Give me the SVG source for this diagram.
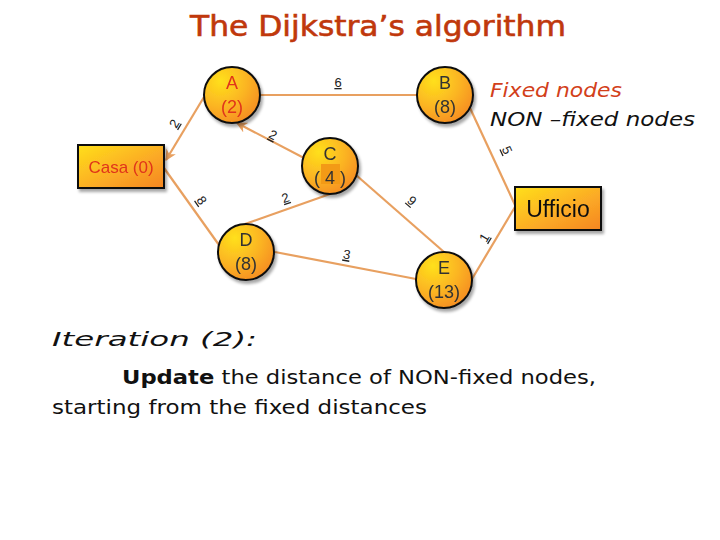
<svg xmlns="http://www.w3.org/2000/svg" width="720" height="540" viewBox="0 0 720 540">
<defs>
<radialGradient id="gc" cx="0.3" cy="0.25" r="0.85">
<stop offset="0" stop-color="#FFE01A"/>
<stop offset="0.55" stop-color="#FBB424"/>
<stop offset="1" stop-color="#F58A1F"/>
</radialGradient>
<linearGradient id="gr" x1="0" y1="0" x2="1" y2="1">
<stop offset="0" stop-color="#FFE01A"/>
<stop offset="0.6" stop-color="#FBA826"/>
<stop offset="1" stop-color="#F5851F"/>
</linearGradient>
<filter id="sh" x="-20%" y="-20%" width="150%" height="150%">
<feGaussianBlur in="SourceAlpha" stdDeviation="1.5"/>
<feOffset dx="2" dy="3" result="b"/>
<feComponentTransfer><feFuncA type="linear" slope="0.35"/></feComponentTransfer>
<feMerge><feMergeNode/><feMergeNode in="SourceGraphic"/></feMerge>
</filter>
<marker id="ar" viewBox="0 0 10 10" refX="9" refY="5" markerWidth="5" markerHeight="5" orient="auto">
<path d="M0,0 L10,5 L0,10 L3,5 z" fill="#E8A060"/>
</marker>
</defs>
<style>
.e{stroke:#E8A060;stroke-width:2.2;fill:none}
.c{fill:url(#gc);stroke:#111;stroke-width:2}
.r{fill:url(#gr);stroke:#111;stroke-width:2}
.n{font-family:"Liberation Sans",Arial,sans-serif;font-size:18px;fill:#333;text-anchor:middle}
.red{fill:#E0341A}
.l{font-family:"Liberation Sans",Arial,sans-serif;font-size:13px;fill:#222;text-anchor:middle;text-decoration:underline}
.h{font-family:"DejaVu Sans",sans-serif}
</style>
<text x="378" y="36" class="h" font-size="28" fill="#C0380C" stroke="#C0380C" stroke-width="0.6" text-anchor="middle" textLength="376" lengthAdjust="spacingAndGlyphs">The Dijkstra’s algorithm</text>

<g id="connectors">
<line class="e" x1="204" y1="97" x2="166" y2="160" marker-end="url(#ar)"/>
<line class="e" x1="164" y1="168" x2="219" y2="245"/>
<line class="e" x1="304" y1="158" x2="237" y2="123" marker-end="url(#ar)"/>
<line class="e" x1="260" y1="95" x2="417" y2="95"/>
<line class="e" x1="470" y1="108" x2="515" y2="205"/>
<line class="e" x1="515" y1="207" x2="472" y2="279"/>
<line class="e" x1="330" y1="194" x2="245" y2="224"/>
<line class="e" x1="356" y1="175" x2="444" y2="252"/>
<line class="e" x1="275" y1="252" x2="416" y2="279"/>
<text class="l" transform="translate(178,126) rotate(-59)">2</text>
<text class="l" transform="translate(198,203) rotate(55)">8</text>
<text class="l" transform="translate(271,139) rotate(27)">2</text>
<text class="l" x="338" y="87">6</text>
<text class="l" transform="translate(503,152) rotate(65)">5</text>
<text class="l" transform="translate(488,240) rotate(-59)">1</text>
<text class="l" transform="translate(287,202) rotate(-19)">2</text>
<text class="l" transform="translate(409,204) rotate(41)">9</text>
<text class="l" transform="translate(346,259) rotate(10)">3</text>
</g>

<g id="casa" filter="url(#sh)">
<rect class="r" x="78" y="145" width="86" height="43"/>
<text class="n red" x="121" y="173" style="font-size:17px">Casa (0)</text>
</g>
<g id="ufficio" filter="url(#sh)">
<rect class="r" x="515" y="187" width="86" height="43"/>
<text class="n" x="558" y="217" style="font-size:23px;fill:#111">Ufficio</text>
</g>
<g id="A" filter="url(#sh)">
<circle class="c" cx="232" cy="95" r="28"/>
<text class="n red" x="232" y="89">A</text>
<text class="n red" x="232" y="113">(2)</text>
</g>
<g id="B" filter="url(#sh)">
<circle class="c" cx="445" cy="95" r="28"/>
<text class="n" x="445" y="89">B</text>
<text class="n" x="445" y="113">(8)</text>
</g>
<g id="C" filter="url(#sh)">
<circle class="c" cx="330" cy="166" r="28"/>
<rect x="321" y="164" width="19" height="20" fill="#F39A18"/>
<text class="n" x="330" y="160">C</text>
<text class="n" x="330" y="184">( 4 )</text>
</g>
<g id="D" filter="url(#sh)">
<circle class="c" cx="246" cy="252" r="28"/>
<text class="n" x="246" y="246">D</text>
<text class="n" x="246" y="270">(8)</text>
</g>
<g id="E" filter="url(#sh)">
<circle class="c" cx="444" cy="280" r="28"/>
<text class="n" x="444" y="274">E</text>
<text class="n" x="444" y="298">(13)</text>
</g>

<text x="490" y="97" class="h" font-size="20" font-style="italic" fill="#D2401A" textLength="132" lengthAdjust="spacingAndGlyphs">Fixed nodes</text>
<text x="490" y="126" class="h" font-size="20" font-style="italic" fill="#111" textLength="205" lengthAdjust="spacingAndGlyphs">NON –fixed nodes</text>

<text x="52" y="346" class="h" font-size="20" font-style="italic" fill="#111" textLength="205" lengthAdjust="spacingAndGlyphs">Iteration (2):</text>
<text x="122" y="384" class="h" font-size="20" fill="#111" textLength="474" lengthAdjust="spacingAndGlyphs"><tspan font-weight="bold">Update</tspan> the distance of NON-fixed nodes,</text>
<text x="52" y="414" class="h" font-size="20" fill="#111" textLength="375" lengthAdjust="spacingAndGlyphs">starting from the fixed distances</text>
</svg>
